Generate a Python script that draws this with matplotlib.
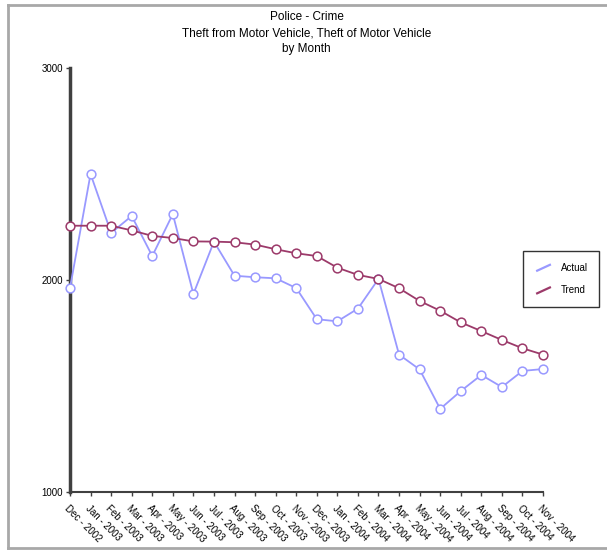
import matplotlib
matplotlib.use("Agg")
import matplotlib.pyplot as plt
from matplotlib.lines import Line2D
from matplotlib.legend_handler import HandlerLine2D

plt.rcParams['font.family'] = ['Liberation Sans', 'DejaVu Sans']

months = ['Dec - 2002', 'Jan - 2003', 'Feb - 2003', 'Mar - 2003', 'Apr - 2003',
          'May - 2003', 'Jun - 2003', 'Jul - 2003', 'Aug - 2003', 'Sep - 2003',
          'Oct - 2003', 'Nov - 2003', 'Dec - 2003', 'Jan - 2004', 'Feb - 2004',
          'Mar - 2004', 'Apr - 2004', 'May - 2004', 'Jun - 2004', 'Jul - 2004',
          'Aug - 2004', 'Sep - 2004', 'Oct - 2004', 'Nov - 2004']

actual = [1962, 2500, 2222, 2302, 2113, 2311, 1934, 2181, 2020, 2013, 2008, 1962,
          1815, 1805, 1865, 2005, 1648, 1578, 1392, 1476, 1552, 1495, 1571, 1580]

trend = [2256, 2256, 2256, 2234, 2208, 2198, 2182, 2181, 2178, 2167, 2145, 2126,
         2113, 2058, 2024, 2005, 1961, 1901, 1855, 1800, 1759, 1717, 1678, 1648]

yticks = [1000, 2000, 3000]


class SlantLine(HandlerLine2D):
    # excel-style legend key: a short diagonal stroke
    def create_artists(self, legend, orig_handle, xdescent, ydescent,
                       width, height, fontsize, trans):
        x0 = -xdescent + 0.1 * width
        x1 = -xdescent + 0.9 * width
        y0 = -ydescent - 0.05 * height
        y1 = -ydescent + 0.95 * height
        ln = Line2D([x0, x1], [y0, y1], color=orig_handle.get_color(),
                    lw=orig_handle.get_linewidth() + 0.3, solid_capstyle='butt')
        ln.set_transform(trans)
        return [ln]


fig = plt.figure(figsize=(6.07, 5.51), dpi=100)
ax = fig.add_axes([0.1153, 0.1071, 0.7793, 0.7695])

x = list(range(len(months)))
l1, = ax.plot(x, actual, color='#9999ff', lw=1.3, marker='o', ms=6.3,
              mfc='white', mec='#9999ff', mew=1.1, label='Actual', zorder=3)
l2, = ax.plot(x, trend, color='#9c3a6a', lw=1.3, marker='o', ms=6.3,
              mfc='white', mec='#9c3a6a', mew=1.1, label='Trend', zorder=4)

ax.set_xlim(0, len(months) - 1)
ax.set_ylim(1000, 3000)
ax.set_yticks(yticks)
ax.set_yticklabels([str(v) for v in yticks], fontsize=7)
ax.set_xticks(x)
ax.set_xticklabels(months, fontsize=7, rotation=-45, ha='left', va='top',
                   rotation_mode='anchor')
ax.tick_params(axis='x', length=3, width=1, color='#404040', pad=5)
ax.tick_params(axis='y', length=3, width=1, color='#404040', pad=2)

for s in ['top', 'right']:
    ax.spines[s].set_visible(False)
ax.spines['left'].set_linewidth(2.5)
ax.spines['left'].set_color('#404040')
ax.spines['bottom'].set_linewidth(1.5)
ax.spines['bottom'].set_color('#404040')
for c in [l1, l2]:
    c.set_clip_on(False)

fig.text(0.505, 0.969, 'Police - Crime', ha='center', va='center', fontsize=8.5)
fig.text(0.505, 0.94, 'Theft from Motor Vehicle, Theft of Motor Vehicle',
         ha='center', va='center', fontsize=8.5)
fig.text(0.505, 0.911, 'by Month', ha='center', va='center', fontsize=8.5)

leg = fig.legend(handles=[l1, l2], loc='upper left',
                 bbox_to_anchor=(0.853, 0.553), fontsize=7, fancybox=False,
                 frameon=True, handlelength=1.9, handletextpad=0.8,
                 borderpad=1.2, labelspacing=1.3,
                 handler_map={Line2D: SlantLine()})
leg.get_frame().set_edgecolor('black')
leg.get_frame().set_linewidth(1.0)

# grey window frame around the chart area
frame = dict(color='#a8a8a8', lw=2, transform=fig.transFigure)
fig.add_artist(Line2D([0.013, 0.013], [0.005, 0.991], **frame))
fig.add_artist(Line2D([0.013, 1.0], [0.991, 0.991], **frame))
fig.add_artist(Line2D([0.013, 1.0], [0.005, 0.005], **frame))

fig.savefig('out.png', dpi=100)
